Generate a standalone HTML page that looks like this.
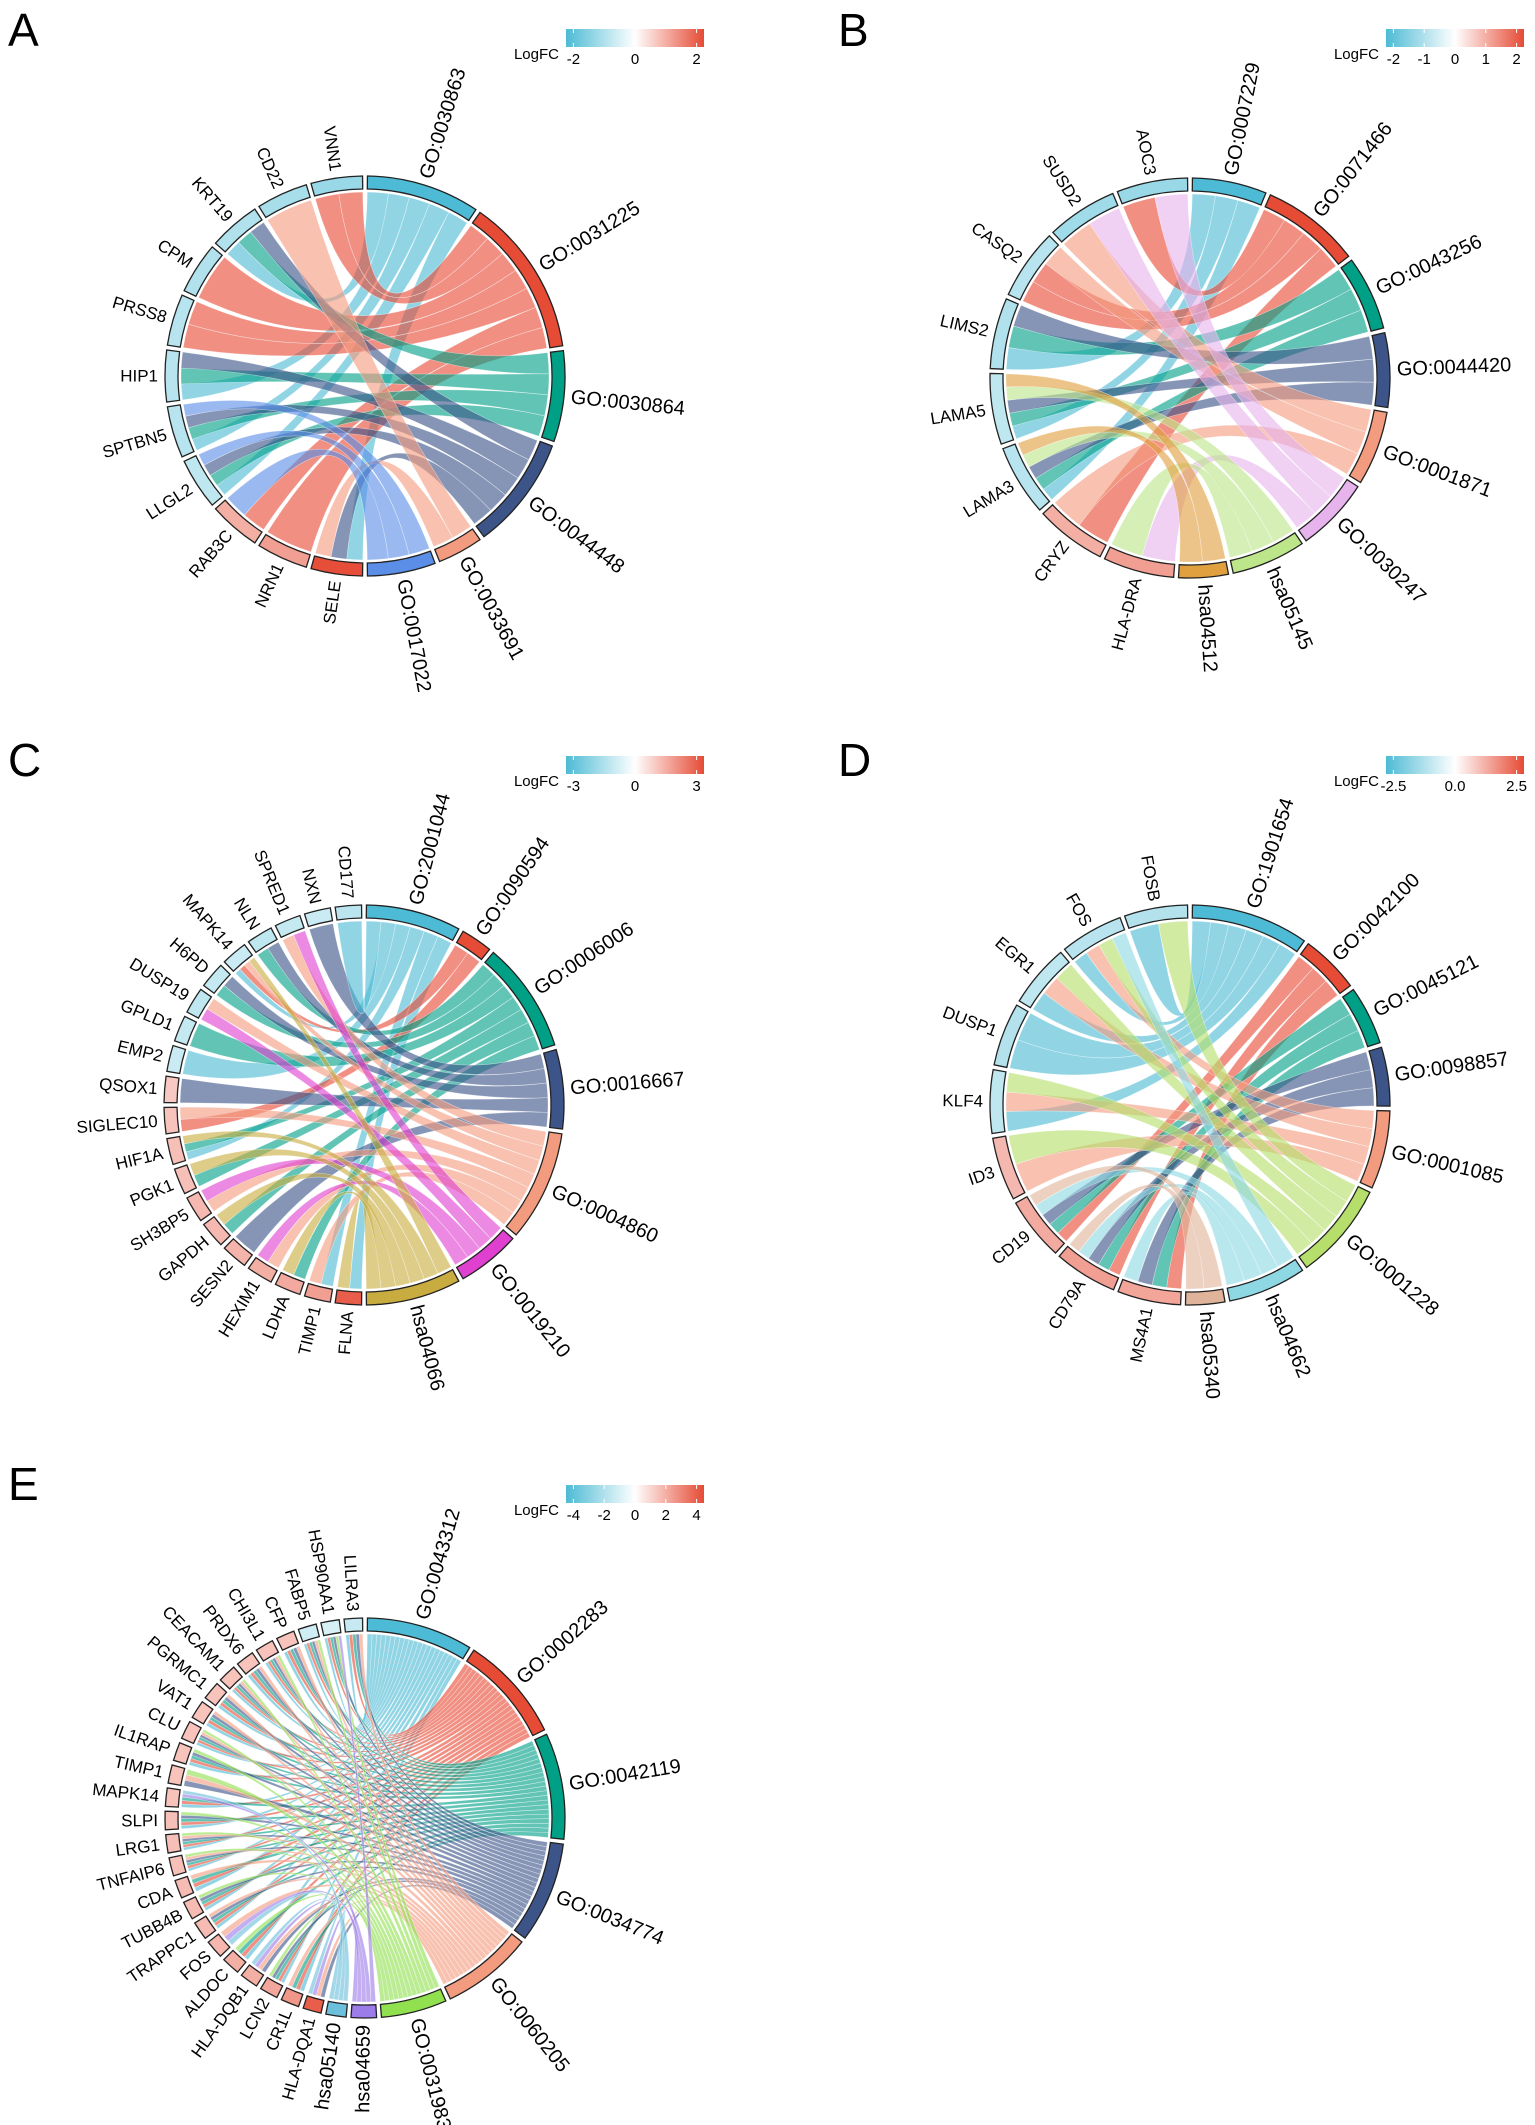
<!DOCTYPE html>
<html><head><meta charset="utf-8"><style>
html,body{margin:0;padding:0;background:#fff;}
svg{display:block;font-family:"Liberation Sans",Arial,sans-serif;}
</style></head><body>
<svg id="fig" width="1535" height="2125" viewBox="0 0 1535 2125" xmlns="http://www.w3.org/2000/svg">
<defs>
<linearGradient id="fcgrad" x1="0" x2="1" y1="0" y2="0">
<stop offset="0" stop-color="#4DBBD5"/><stop offset="0.5" stop-color="#ffffff"/><stop offset="1" stop-color="#E64B35"/>
</linearGradient>
</defs>
</svg>
<script>
// ---------- Panel A data ----------
const aTerms = ["GO:0030863","GO:0031225","GO:0030864","GO:0044448","GO:0033691","GO:0017022"];
const aTermColors = ["#4DBBD5","#E64B35","#00A087","#3C5488","#F39B7F","#5B8EE6"];
const aGenes = ["SELE","NRN1","RAB3C","LLGL2","SPTBN5","HIP1","PRSS8","CPM","KRT19","CD22","VNN1"];
const aFC = [2.2,1.2,1.0,-0.8,-0.9,-0.9,-0.9,-1.0,-1.0,-1.1,-1.3];
const aLinks = [[0,3,4],[1],[1,5],[0,2,3,5],[0,2,3,5],[0,2,3],[1,1],[1],[0,2,3],[4],[1,1]];
const aTicks = [-2,0,2];
// ---------- Panel B data ----------
const bTerms = ["GO:0007229","GO:0071466","GO:0043256","GO:0044420","GO:0001871","GO:0030247","hsa05145","hsa04512"];
const bTermColors = ["#4DBBD5","#E64B35","#00A087","#3C5488","#F39B7F","#E6B3EC","#BDE58A","#E0A040"];
const bGenes = ["HLA-DRA","CRYZ","LAMA3","LAMA5","LIMS2","CASQ2","SUSD2","AOC3"];
const bFC = [1.2,1.0,-0.9,-0.8,-1.0,-0.9,-1.2,-1.3];
const bLinks = [[5,6],[1,4],[0,2,3,6,7],[0,2,3,6,7],[0,2,3],[1,1,4],[4,5],[1,5]];
const bTicks = [-2,-1,0,1,2];
// ---------- Panel C data ----------
const cTerms = ["GO:2001044","GO:0090594","GO:0006006","GO:0016667","GO:0004860","GO:0019210","hsa04066"];
const cTermColors = ["#4DBBD5","#E64B35","#00A087","#3C5488","#F39B7F","#E040D0","#C9AC40"];
const cGenes = ["FLNA","TIMP1","LDHA","HEXIM1","SESN2","GAPDH","SH3BP5","PGK1","HIF1A","SIGLEC10","QSOX1","EMP2","GPLD1","DUSP19","H6PD","MAPK14","NLN","SPRED1","NXN","CD177"];
const cFC = [3.0,1.8,1.6,1.5,1.4,1.3,1.3,1.2,1.2,1.1,1.0,-1.0,-1.1,-1.2,-1.1,-1.0,-1.2,-1.1,-1.0,-1.3];
const cLinks = [[0,6],[0,4],[2,6],[4,5],[3],[2,6],[4,5],[2,6],[0,2,6],[1,4],[3],[0],[2],[5,4],[2,3],[0,1,4,6],[2,3],[4,5],[3],[0]];
const cTicks = [-3,0,3];
// ---------- Panel D data ----------
const dTerms = ["GO:1901654","GO:0042100","GO:0045121","GO:0098857","GO:0001085","GO:0001228","hsa04662","hsa05340"];
const dTermColors = ["#4DBBD5","#E64B35","#00A087","#3C5488","#F39B7F","#B5DE6A","#8ED8E4","#E0B49A"];
const dGenes = ["MS4A1","CD79A","CD19","ID3","KLF4","DUSP1","EGR1","FOS","FOSB"];
const dFC = [1.4,1.5,1.3,1.1,-1.0,-1.2,-1.0,-1.1,-1.2];
const dLinks = [[1,2,3,6],[1,2,3,6,7],[1,2,3,6,7],[4,5],[0,4,5],[0,0],[0,4,5],[0,4,5,6],[0,5]];
const dTicks = [-2.5,0.0,2.5];
// ---------- Panel E data ----------
const eTerms = ["GO:0043312","GO:0002283","GO:0042119","GO:0034774","GO:0060205","GO:0031983","hsa04659","hsa05140"];
const eTermColors = ["#4DBBD5","#E64B35","#00A087","#3C5488","#F39B7F","#91E050","#9C7CE8","#6CC0DC"];
const eGenes = ["HLA-DQA1","CR1L","LCN2","HLA-DQB1","ALDOC","FOS","TRAPPC1","TUBB4B","CDA","TNFAIP6","LRG1","SLPI","MAPK14","TIMP1","IL1RAP","CLU","VAT1","PGRMC1","CEACAM1","PRDX6","CHI3L1","CFP","FABP5","HSP90AA1","LILRA3"];
const eFC = [4.0,2.6,2.2,2.0,2.0,1.8,1.7,1.7,1.7,1.6,1.6,1.6,1.5,1.5,1.5,1.5,1.5,1.5,1.5,1.5,1.5,1.5,-1.2,-1.0,-1.4];
const eLinks = [[3,4,6,7],[0,1,2,4],[0,1,2,3,5],[3,4,6,7],[0,1,2,5],[7,6,4],[0,1,2,3,4],[0,1,2,3,5],[0,1,2,4],[0,1,2,3,4,5],[0,1,2,3,4,5],[0,1,2,3,5],[0,1,2,6,7],[3,4,5],[0,1,2,3,5],[0,1,2,3,4,5],[0,1,2,3,4],[0,1,2,3,4],[0,1,2,3,4,5],[0,1,2,3,4],[0,1,2,3,4,5],[0,1,2,3,4],[0,1,2,3,4,5],[0,1,2,3,5,6],[0,1,2,3,4]];
const eTicks = [-4,-2,0,2,4];

const NS="http://www.w3.org/2000/svg";
const svg=document.getElementById('fig');
function mk(tag,attrs,parent){const e=document.createElementNS(NS,tag);for(const k in attrs)e.setAttribute(k,attrs[k]);parent.appendChild(e);return e;}
function hex2rgb(h){return [parseInt(h.substr(1,2),16),parseInt(h.substr(3,2),16),parseInt(h.substr(5,2),16)];}
function mix(a,b,t){const A=hex2rgb(a),B=hex2rgb(b);return 'rgb('+A.map((v,i)=>Math.round(v+(B[i]-v)*t)).join(',')+')';}
function fcColor(v,max){const t=Math.min(1,Math.abs(v)/max);return v<0?mix('#ffffff','#4DBBD5',t):mix('#ffffff','#E64B35',t);}
function pt(cx,cy,r,deg){const a=(deg-90)*Math.PI/180;return [cx+r*Math.cos(a),cy+r*Math.sin(a)];}
function arcPath(cx,cy,r1,r2,a0,a1){const p0=pt(cx,cy,r2,a0),p1=pt(cx,cy,r2,a1),p2=pt(cx,cy,r1,a1),p3=pt(cx,cy,r1,a0);const L=(a1-a0)>180?1:0;
 return `M${p0[0]},${p0[1]}A${r2},${r2} 0 ${L} 1 ${p1[0]},${p1[1]}L${p2[0]},${p2[1]}A${r1},${r1} 0 ${L} 0 ${p3[0]},${p3[1]}Z`;}

function drawPanel(id,letter,lx,ly,cx,cy,legX,legY,terms,tcols,genes,fc,links,ticks,termDeg){
 const g=mk('g',{},svg);
 
 
 const L=mk('text',{x:lx,y:ly,'font-size':46,fill:'#000'},g);L.textContent=letter;
 
 
 const max=Math.max(Math.abs(ticks[0]),Math.abs(ticks[ticks.length-1]))*1.12;
 const lg=mk('g',{},g);
 
 
 const bw=138;
 mk('rect',{x:legX,y:legY,width:bw,height:18,fill:'url(#fcgrad)'},lg);
 const lt=mk('text',{x:legX-7,y:legY+30,'font-size':15,'text-anchor':'end'},lg);lt.textContent='LogFC';
 ticks.forEach(t=>{const x=legX+bw/2+t/max*bw/2;
  mk('line',{x1:x,x2:x,y1:legY,y2:legY+4,stroke:'#fff','stroke-width':1},lg);
  mk('line',{x1:x,x2:x,y1:legY+14,y2:legY+18,stroke:'#fff','stroke-width':1},lg);
  const tt=mk('text',{x:x,y:legY+35,'font-size':15,'text-anchor':'middle'},lg);tt.textContent=(ticks.some(v=>v%1!==0)?t.toFixed(1):t);
  
  });
 const tw=terms.map((_,j)=>links.reduce((s,l)=>s+l.filter(x=>x===j).length,0));
 const tTot=tw.reduce((a,b)=>a+b,0);
 const gap=1.4,R=200,ringW=13,rr=R-ringW-3;
 const tSpan=termDeg-gap*terms.length, gSpan=(360-termDeg)-gap*genes.length;
 const gW=gSpan/genes.length;
 let ang=gap/2;
 const tStart=[],tLen=[],gStart=[];
 terms.forEach((t,j)=>{tStart.push(ang);tLen.push(tw[j]/tTot*tSpan);ang+=tLen[j]+gap;});
 genes.forEach(()=>{gStart.push(ang);ang+=gW+gap;});
 const tU=tLen.map((l,j)=>l/Math.max(1,tw[j]));
 const tCur=tStart.map((a,j)=>a+tLen[j]);
 const rib=mk('g',{},g);
 
 
 genes.forEach((gname,i)=>{let ga=gStart[i];const u=gW/links[i].length;
  links[i].forEach(j=>{const s0=ga,s1=ga+u;ga=s1;const t1=tCur[j],t0=t1-tU[j];tCur[j]=t0;
   const p1=pt(cx,cy,rr,s0),p2=pt(cx,cy,rr,s1),p3=pt(cx,cy,rr,t0),p4=pt(cx,cy,rr,t1);
   const d=`M${p1[0]},${p1[1]}A${rr},${rr} 0 0 1 ${p2[0]},${p2[1]}Q${cx},${cy} ${p3[0]},${p3[1]}A${rr},${rr} 0 0 1 ${p4[0]},${p4[1]}Q${cx},${cy} ${p1[0]},${p1[1]}Z`;
   const p=mk('path',{d:d,fill:tcols[j],'fill-opacity':0.62,stroke:'#fff','stroke-width':0.6,'stroke-opacity':0.5},rib);
   
   });});
 function seg(name,a0,a1,fill,big){
  const p=mk('path',{d:arcPath(cx,cy,R-ringW,R,a0,a1),fill:fill,stroke:'#222','stroke-width':1.3},g);
  
  
  const m=(a0+a1)/2,pos=pt(cx,cy,R+7,m);
  const right=m<180;
  const rot=right?m-90:m+90;
  const t=mk('text',{x:pos[0],y:pos[1],'font-size':big?20:17,'text-anchor':right?'start':'end','dominant-baseline':'central',transform:`rotate(${rot} ${pos[0]} ${pos[1]})`},g);
  t.textContent=name;
  
  
 }
 terms.forEach((t,j)=>seg(t,tStart[j],tStart[j]+tLen[j],tcols[j],true));
 genes.forEach((t,i)=>seg(t,gStart[i],gStart[i]+gW,fcColor(fc[i],max),false));
}
drawPanel('a','A',8,46,365,376,566,29,aTerms,aTermColors,aGenes,aFC,aLinks,aTicks,180);
drawPanel('b','B',838,46,1190,378,1386,29,bTerms,bTermColors,bGenes,bFC,bLinks,bTicks,184);
drawPanel('c','C',8,776,364,1105,566,756,cTerms,cTermColors,cGenes,cFC,cLinks,cTicks,180);
drawPanel('d','D',838,776,1190,1105,1386,756,dTerms,dTermColors,dGenes,dFC,dLinks,dTicks,182);
drawPanel('e','E',8,1500,365,1818,566,1485,eTerms,eTermColors,eGenes,eFC,eLinks,eTicks,192);
</script>
</body></html>
